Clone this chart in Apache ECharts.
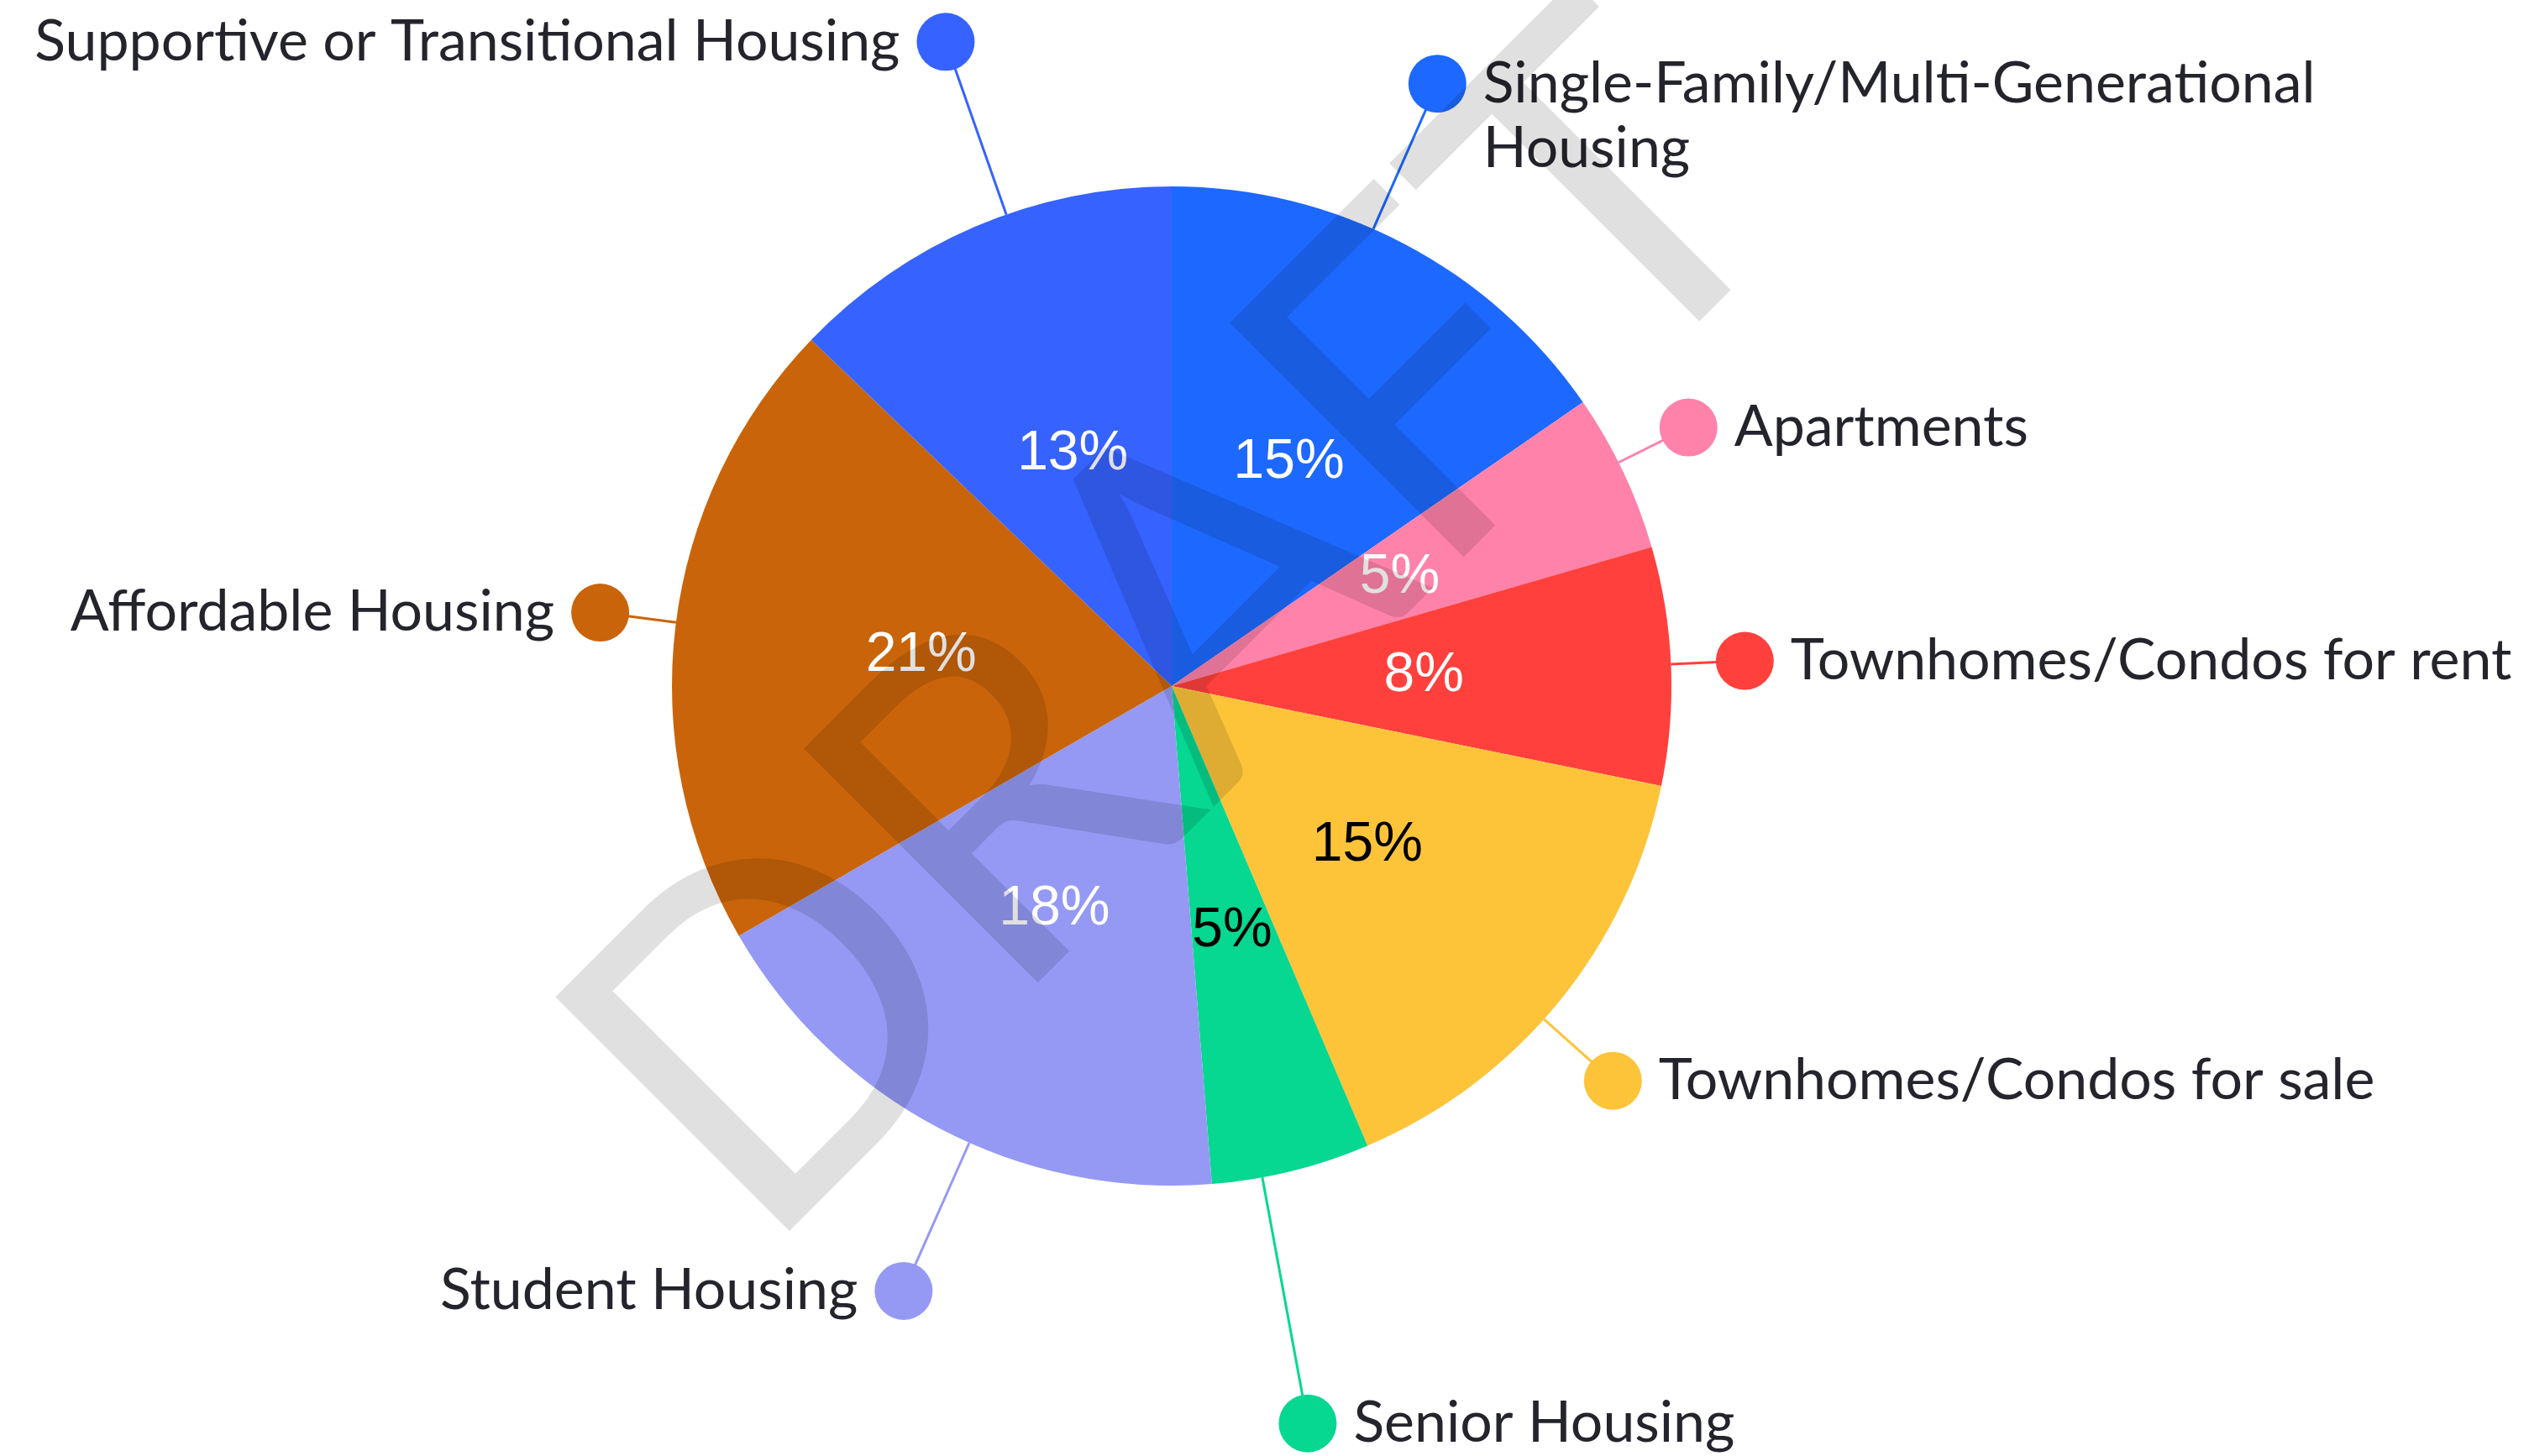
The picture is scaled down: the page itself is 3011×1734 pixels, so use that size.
<!DOCTYPE html>
<html>
<head>
<meta charset="utf-8">
<script src="https://cdn.jsdelivr.net/npm/echarts@6/dist/echarts.min.js"></script>
<style>
html,body{margin:0;padding:0;background:#ffffff;}
#chart{width:3011px;height:1734px;}
</style>
</head>
<body>
<div id="chart"></div>
<script>
// ---- data (clockwise from 12 o'clock) ----
const categories = [
  'Single-Family/Multi-Generational Housing',
  'Apartments',
  'Townhomes/Condos for rent',
  'Townhomes/Condos for sale',
  'Senior Housing',
  'Student Housing',
  'Affordable Housing',
  'Supportive or Transitional Housing'
];
const responses = [18, 6, 9, 18, 6, 21, 24, 15];

// ---- styles ----
const colors = ['#1D69FF', '#FF82AA', '#FF403D', '#FDC43A', '#06D791', '#9599F4', '#C9640A', '#3662FF'];
const insideLabelColors = ['#ffffff', '#ffffff', '#ffffff', '#000000', '#000000', '#ffffff', '#ffffff', '#ffffff'];
// leader line length beyond the pie edge, and small angular nudge (degrees, clockwise) of each leader
const labelLineLengths = [189, 93, 88, 110, 298, 193, 91, 218];
const labelAngleNudge = [-3.9, -1.2, -0.2, 2.6, 3.4, -3.8, 0.4, 3.75];

const CENTER = [1395, 817];
const RADIUS = 595;
const DOT = 69;
const GAP = 20;
const FONT = 'Lato';

const total = responses.reduce((a, b) => a + b, 0);
const midFrac = [];
let acc = 0;
responses.forEach(v => { midFrac.push((acc + v / 2) / total); acc += v; });
const isRight = i => midFrac[i] < 0.5;
const needsWrap = i => isRight(i) && categories[i].length > 30;

const rich = {
  txt: { fontFamily: FONT, fontSize: 68, lineHeight: 77, color: '#24242c', verticalAlign: 'middle' },
  gap: { width: GAP, height: 10 },
  pad: { width: DOT + GAP, height: 10 }
};
colors.forEach((c, i) => {
  rich['dot' + i] = { width: DOT, height: DOT, borderRadius: DOT / 2, backgroundColor: c, verticalAlign: 'middle' };
});

function outerLabel(p) {
  const i = p.dataIndex;
  const name = p.name;
  if (needsWrap(i)) {
    const k = name.lastIndexOf(' ');
    return '{dot' + i + '| }{gap| }{txt|' + name.slice(0, k) + '}\n{pad| }{txt|' + name.slice(k + 1) + '}';
  }
  return isRight(i)
    ? '{dot' + i + '| }{gap| }{txt|' + name + '}'
    : '{txt|' + name + '}{gap| }{dot' + i + '| }';
}

function rotatePoint(pt, deg) {
  const a = deg * Math.PI / 180;
  const dx = pt[0] - CENTER[0], dy = pt[1] - CENTER[1];
  return [CENTER[0] + dx * Math.cos(a) - dy * Math.sin(a), CENTER[1] + dx * Math.sin(a) + dy * Math.cos(a)];
}

function outerLabelLayout(params) {
  const i = params.dataIndex;
  const pts = params.labelLinePoints;
  if (!pts) return {};
  const newPts = pts.map(p => rotatePoint(p, labelAngleNudge[i]));
  const end = newPts[newPts.length - 1];
  const right = isRight(i);
  return {
    x: end[0] + (right ? -DOT / 2 : DOT / 2),
    y: end[1],
    labelLinePoints: newPts
  };
}

const innerData = categories.map((name, i) => ({
  name: name,
  value: responses[i],
  itemStyle: { color: colors[i] },
  label: { color: insideLabelColors[i] }
}));

const outerData = categories.map((name, i) => ({
  name: name,
  value: responses[i],
  itemStyle: { color: 'rgba(0,0,0,0)' },
  labelLine: { length: labelLineLengths[i], lineStyle: { color: colors[i] } },
  label: needsWrap(i) ? { padding: [77, 0, 0, 0] } : {}
}));

const chart = echarts.init(document.getElementById('chart'), null, { renderer: 'canvas' });
chart.setOption({
  backgroundColor: '#ffffff',
  animation: false,
  series: [
    {
      type: 'pie',
      center: CENTER,
      radius: RADIUS,
      startAngle: 90,
      clockwise: true,
      percentPrecision: 0,
      silent: true,
      avoidLabelOverlap: false,
      emphasis: { disabled: true },
      itemStyle: { borderWidth: 0 },
      label: {
        show: true,
        position: 'inside',
        formatter: '{d}%',
        fontFamily: 'Liberation Sans, Arial, sans-serif',
        fontSize: 66,
        color: '#ffffff'
      },
      labelLine: { show: false },
      data: innerData
    },
    {
      type: 'pie',
      center: CENTER,
      radius: RADIUS,
      startAngle: 90,
      clockwise: true,
      silent: true,
      avoidLabelOverlap: false,
      emphasis: { disabled: true },
      itemStyle: { borderWidth: 0 },
      label: {
        show: true,
        position: 'outer',
        alignTo: 'none',
        overflow: 'none',
        distanceToLabelLine: -DOT / 2,
        formatter: outerLabel,
        rich: rich
      },
      labelLine: {
        show: true,
        length2: 0,
        smooth: false,
        lineStyle: { width: 3 }
      },
      labelLayout: outerLabelLayout,
      data: outerData
    }
  ],
  graphic: [
    {
      type: 'text',
      x: 1405,
      y: 750,
      rotation: Math.PI / 4,
      z: 100,
      silent: true,
      style: {
        text: 'DRAFT',
        font: 'normal 550px Lato',
        fill: 'rgba(0,0,0,0.12)',
        align: 'center',
        verticalAlign: 'middle'
      }
    }
  ]
});
</script>
</body>
</html>
